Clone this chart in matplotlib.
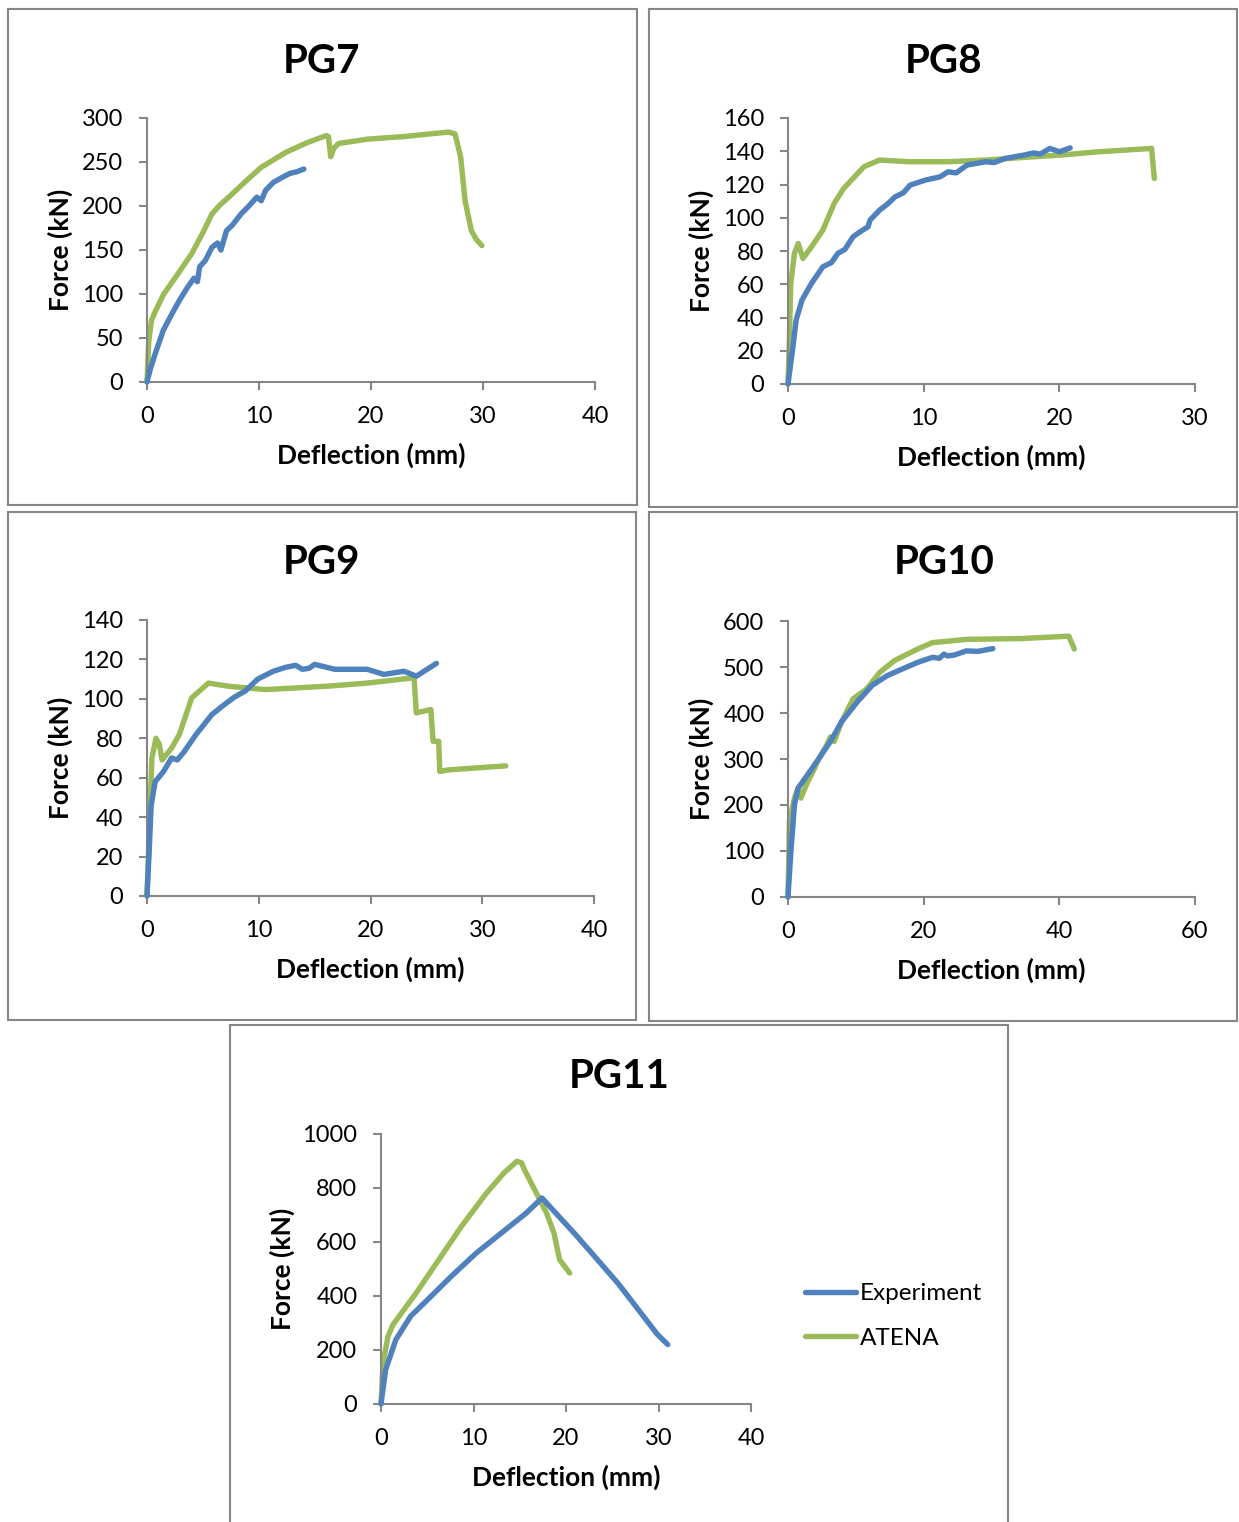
import numpy as np
import matplotlib
matplotlib.use('Agg')
import matplotlib.pyplot as plt
from matplotlib.patches import Rectangle

W, H = 1239, 1522
BLUE = '#4f81bd'
GREEN = '#9bbb59'
GREY = '#868686'

# ---- PG7 ----
pg7_exp_x = [0, 0.3, 0.73, 1.46, 2.0, 2.55, 3.0, 3.64, 4.2, 4.5, 4.7, 5.2, 5.8, 6.3, 6.6, 7.1, 7.6, 8.4,
             9.1, 9.8, 10.2, 10.6, 11.3, 12.0, 12.75, 13.4, 14.0]
pg7_exp_y = [0, 15, 32, 59, 72, 85, 95, 108, 118, 114, 131, 138, 153, 158, 150, 172, 178, 191,
             200, 210, 206, 218, 227, 232, 237, 239, 242]
pg7_atena_x = [0, 0.15, 0.4, 0.73, 1.5, 2.55, 4.0, 5.0, 5.8, 6.5, 7.3, 8.8, 10.2, 12.4, 14.3, 16.0, 16.2, 16.4,
               16.7, 17.1, 19.7, 23.0, 26.9, 27.5, 28.0, 28.4, 28.96, 29.4, 29.9]
pg7_atena_y = [0, 45, 70, 80, 100, 119, 146, 170, 191, 201, 210, 228, 244, 261, 272, 280, 279, 256,
               266, 271, 276, 279, 284, 282, 256, 206, 172, 162, 155]

# ---- PG8 ----
pg8_exp_x = [0, 0.33, 0.6, 1.03, 1.73, 2.57, 3.2, 3.68, 4.2, 4.8, 5.4, 5.9, 6.05, 6.75, 7.3, 7.9, 8.5,
             9.0, 10.1, 11.2, 11.8, 12.4, 13.2, 14.6, 15.2, 16.0, 17.4, 18.1, 18.6, 19.3, 20.0, 20.8]
pg8_exp_y = [0, 20.4, 38.5, 50.5, 60.5, 70.5, 73, 78.6, 81, 88.6, 92, 94.6, 98.6, 104.6, 108, 112.6, 115,
             119.6, 122.6, 124.6, 127.6, 127, 131.7, 133.7, 133.2, 135.7, 137.7, 139, 138.3, 141.7, 139.7, 142]
pg8_atena_x = [0, 0.1, 0.2, 0.47, 0.75, 1.1, 1.73, 2.57, 3.4, 4.1, 5.6, 6.75, 9.0, 11.8, 14.6, 17.4,
               20.1, 22.9, 26.8, 27.0]
pg8_atena_y = [0, 25, 60, 78.5, 84.5, 75.5, 82.5, 92.6, 108.6, 117.6, 130.7, 134.7, 133.7, 133.7, 134.7, 136.3,
               137.7, 139.7, 141.7, 123.6]

# ---- PG9 ----
pg9_exp_x = [0, 0.18, 0.37, 0.73, 1.46, 2.2, 2.7, 3.3, 4.4, 5.1, 5.8, 6.9, 7.85, 8.8, 9.9, 11.3, 12.4,
             13.3, 13.9, 14.5, 15.0, 16.8, 19.7, 21.2, 23.0, 24.1, 25.9]
pg9_exp_y = [0, 20.8, 46, 58, 63, 70, 69, 73, 82, 87, 92, 97, 101, 104, 110, 114, 116,
             117, 115, 115.5, 117.5, 115, 115, 112.4, 114, 111.5, 118]
pg9_atena_x = [0, 0.18, 0.44, 0.8, 1.1, 1.35, 2.2, 2.9, 4.0, 5.5, 7.3, 10.6, 16.1, 19.7, 23.9, 24.1,
               25.4, 25.6, 26.1, 26.2, 27.0, 32.1]
pg9_atena_y = [0, 29, 70, 80, 77, 69, 75, 82, 100.5, 108, 106.4, 104.7, 106.4, 108, 110.7, 92.9,
               94.6, 78.5, 78.5, 63.2, 64, 66]

# ---- PG10 ----
pg10_exp_x = [0, 0.4, 0.95, 1.5, 2.9, 4.6, 6.25, 7.9, 10.2, 12.4, 14.6, 16.9, 19.1, 21.3, 22.3, 23.0,
              23.5, 24.5, 26.3, 28.0, 30.2]
pg10_exp_y = [0, 93, 201, 237, 266, 302, 338, 381, 424, 460, 481, 496, 510, 521, 519, 528,
              524, 526, 535, 534, 540]
pg10_atena_x = [0, 0.22, 0.95, 1.5, 1.9, 2.9, 3.7, 4.6, 5.7, 6.25, 6.8, 7.9, 9.6, 11.3, 11.8, 13.5,
                15.7, 19.1, 21.3, 26.3, 34.7, 41.4, 42.2]
pg10_atena_y = [0, 165, 215, 237, 215, 251, 273, 302, 330, 348, 338, 381, 431, 449, 456, 488,
                514, 539, 553, 560, 562, 567, 539]

# ---- PG11 ----
pg11_exp_x = [0, 0.5, 1.6, 3.2, 4.85, 7.6, 10.3, 13.0, 15.7, 17.4, 21.2, 25.6, 29.9, 31.0]
pg11_exp_y = [0, 127, 238, 325, 380, 473, 559, 633, 707, 763, 621, 448, 257, 220]
pg11_atena_x = [0, 0.22, 0.76, 1.3, 3.8, 6.5, 8.7, 11.4, 13.3, 14.7, 15.2, 15.5, 16.8, 17.9, 18.7,
                19.3, 20.4]
pg11_atena_y = [0, 152, 251, 294, 411, 547, 658, 781, 856, 899, 893, 868, 781, 707, 633,
                535, 485]

plt.rcParams['font.family'] = ['Lato', 'DejaVu Sans']

fig = plt.figure(figsize=(W / 100, H / 100), dpi=100)


def box(x0, y0, x1, y1):
    fig.add_artist(Rectangle((x0 / W, 1 - y1 / H), (x1 - x0) / W, (y1 - y0) / H,
                             transform=fig.transFigure, fill=False,
                             edgecolor=GREY, lw=1.5))


def panel(axpx, title, tpx, exp, atena, xmax, xstep, ymax, ystep, ylab_off=87):
    l, t, r, b = axpx
    ax = fig.add_axes([l / W, 1 - b / H, (r - l) / W, (b - t) / H])
    ax.plot(exp[0], exp[1], color=BLUE, lw=3.9, zorder=3, clip_on=False,
            solid_capstyle='round', solid_joinstyle='round', label='Experiment')
    ax.plot(atena[0], atena[1], color=GREEN, lw=3.9, zorder=2, clip_on=False,
            solid_capstyle='round', solid_joinstyle='round', label='ATENA')
    ax.set_xlim(0, xmax)
    ax.set_ylim(0, ymax)
    ax.set_xticks(np.arange(0, xmax + 1, xstep))
    ax.set_yticks(np.arange(0, ymax + 1, ystep))
    for s in ['top', 'right']:
        ax.spines[s].set_visible(False)
    for s in ['left', 'bottom']:
        ax.spines[s].set_color(GREY)
        ax.spines[s].set_linewidth(1.5)
    ax.tick_params(axis='both', direction='out', length=6, width=1.5, color=GREY,
                   labelsize=17, labelcolor='black')
    ax.tick_params(axis='x', pad=11)
    ax.tick_params(axis='y', pad=11)
    ax.set_xlabel('Deflection (mm)', fontsize=19, fontweight='bold')
    ax.set_ylabel('Force (kN)', fontsize=19, fontweight='bold')
    ax.xaxis.set_label_coords(0.5, -82 / (b - t))
    ax.xaxis.label.set_va('baseline')
    ax.yaxis.set_label_coords(-ylab_off / (r - l), 0.5)
    ax.yaxis.label.set_va('center')
    fig.text(tpx[0] / W, 1 - tpx[1] / H, title, fontsize=29, fontweight='bold',
             ha='center', va='baseline')
    return ax


box(8, 9, 637, 505)
box(649, 9, 1237, 507)
box(8, 512, 636, 1020)
box(649, 512, 1237, 1021)
box(230, 1025, 1008, 1535)

panel((147, 118, 595, 382), 'PG7', (322, 73), (pg7_exp_x, pg7_exp_y),
      (pg7_atena_x, pg7_atena_y), 40, 10, 300, 50)
panel((788, 118, 1195, 384), 'PG8', (944, 73), (pg8_exp_x, pg8_exp_y),
      (pg8_atena_x, pg8_atena_y), 30, 10, 160, 20)
panel((147, 620, 594, 896), 'PG9', (322, 574), (pg9_exp_x, pg9_exp_y),
      (pg9_atena_x, pg9_atena_y), 40, 10, 140, 20)
panel((788, 621, 1195, 897), 'PG10', (944, 574), (pg10_exp_x, pg10_exp_y),
      (pg10_atena_x, pg10_atena_y), 60, 20, 600, 100)
ax11 = panel((381, 1134, 751, 1404), 'PG11', (619, 1088), (pg11_exp_x, pg11_exp_y),
             (pg11_atena_x, pg11_atena_y), 40, 10, 1000, 200, ylab_off=99)

ax11.legend(loc='center left', bbox_to_anchor=(805 / W, 1 - 1316 / H),
            bbox_transform=fig.transFigure, frameon=False, fontsize=17.5,
            handlelength=2.1, handletextpad=0.15, labelspacing=0.95,
            borderpad=0, borderaxespad=0)

fig.savefig('out.png', dpi=100, facecolor='white')
